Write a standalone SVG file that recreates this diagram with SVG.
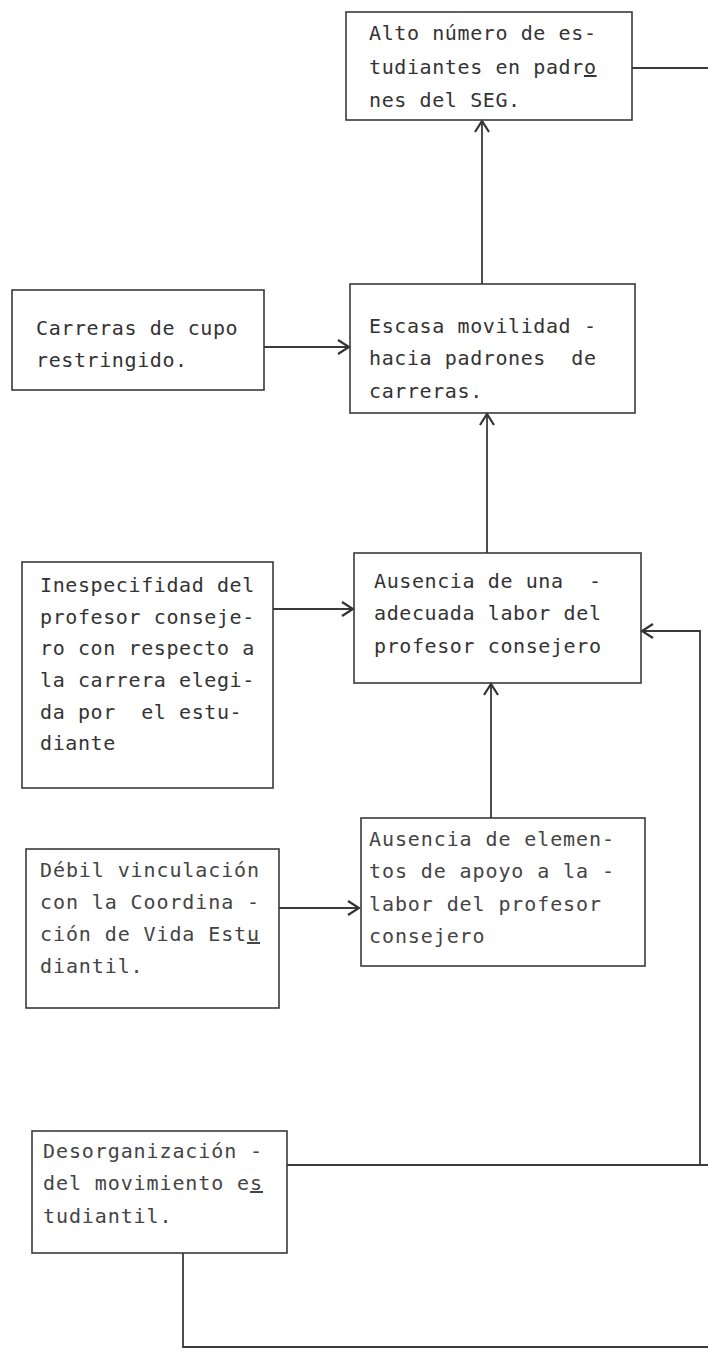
<svg xmlns="http://www.w3.org/2000/svg" width="708" height="1368" viewBox="0 0 708 1368">
<style>
.box{fill:none;stroke:#3a3a3a;stroke-width:1.6}
.c{fill:none;stroke:#3a3a3a;stroke-width:1.8}
.t{font-family:"DejaVu Sans Mono","Liberation Mono",monospace;font-size:20px;letter-spacing:0.6px;fill:#333;white-space:pre}
.n{font-family:"DejaVu Sans Mono","Liberation Mono",monospace;font-size:20px;letter-spacing:0.9px;fill:#444;white-space:pre}
.u{text-decoration:underline}
</style>
<defs>
<marker id="a" markerWidth="16" markerHeight="18" refX="14" refY="9" orient="auto" markerUnits="userSpaceOnUse">
<path d="M3,2 L14,9 L3,16" fill="none" stroke="#333" stroke-width="2.2"/>
</marker>
</defs>
<rect width="708" height="1368" fill="#fff"/>
<g id="connectors">
<line class="c" x1="632" y1="68" x2="708" y2="68"/>
<line class="c" x1="482" y1="284" x2="482" y2="121" marker-end="url(#a)"/>
<line class="c" x1="264" y1="347" x2="349" y2="347" marker-end="url(#a)"/>
<line class="c" x1="487" y1="553" x2="487" y2="414" marker-end="url(#a)"/>
<line class="c" x1="273" y1="609" x2="353" y2="609" marker-end="url(#a)"/>
<polyline class="c" points="700,1165 700,631 642,631" marker-end="url(#a)"/>
<line class="c" x1="491" y1="818" x2="491" y2="684" marker-end="url(#a)"/>
<line class="c" x1="279" y1="908" x2="359" y2="908" marker-end="url(#a)"/>
<line class="c" x1="287" y1="1165" x2="708" y2="1165"/>
<polyline class="c" points="183,1253 183,1347 708,1347"/>
</g>
<g id="n1">
<rect class="box" x="346" y="12" width="286" height="108"/>
<text class="t" x="369" y="40">Alto número de es-</text>
<text class="t" x="369" y="74">tudiantes en padr<tspan class="u">o</tspan></text>
<text class="t" x="369" y="107">nes del SEG.</text>
</g>
<g id="n2">
<rect class="box" x="12" y="290" width="252" height="100"/>
<text class="t" x="36" y="335">Carreras de cupo</text>
<text class="t" x="36" y="367">restringido.</text>
</g>
<g id="n3">
<rect class="box" x="350" y="284" width="285" height="129"/>
<text class="t" x="369" y="333">Escasa movilidad -</text>
<text class="t" x="369" y="365">hacia padrones  de</text>
<text class="t" x="369" y="398">carreras.</text>
</g>
<g id="n4">
<rect class="box" x="22" y="562" width="251" height="226"/>
<text class="t" x="40" y="592">Inespecifidad del</text>
<text class="t" x="40" y="624">profesor conseje-</text>
<text class="t" x="40" y="655">ro con respecto a</text>
<text class="t" x="40" y="687">la carrera elegi-</text>
<text class="t" x="40" y="719">da por  el estu-</text>
<text class="t" x="40" y="750">diante</text>
</g>
<g id="n5">
<rect class="box" x="354" y="553" width="287" height="130"/>
<text class="t" x="374" y="588">Ausencia de una  -</text>
<text class="t" x="374" y="620">adecuada labor del</text>
<text class="t" x="374" y="653">profesor consejero</text>
</g>
<g id="n6">
<rect class="box" x="26" y="849" width="253" height="159"/>
<text class="n" x="40" y="877">Débil vinculación</text>
<text class="n" x="40" y="909">con la Coordina -</text>
<text class="n" x="40" y="941">ción de Vida Est<tspan class="u">u</tspan></text>
<text class="n" x="40" y="973">diantil.</text>
</g>
<g id="n7">
<rect class="box" x="361" y="818" width="284" height="148"/>
<text class="n" x="369" y="846">Ausencia de elemen-</text>
<text class="n" x="369" y="878">tos de apoyo a la -</text>
<text class="n" x="369" y="911">labor del profesor</text>
<text class="n" x="369" y="943">consejero</text>
</g>
<g id="n8">
<rect class="box" x="32" y="1131" width="255" height="122"/>
<text class="n" x="43" y="1158">Desorganización -</text>
<text class="n" x="43" y="1190">del movimiento e<tspan class="u">s</tspan></text>
<text class="n" x="43" y="1223">tudiantil.</text>
</g>
</svg>
